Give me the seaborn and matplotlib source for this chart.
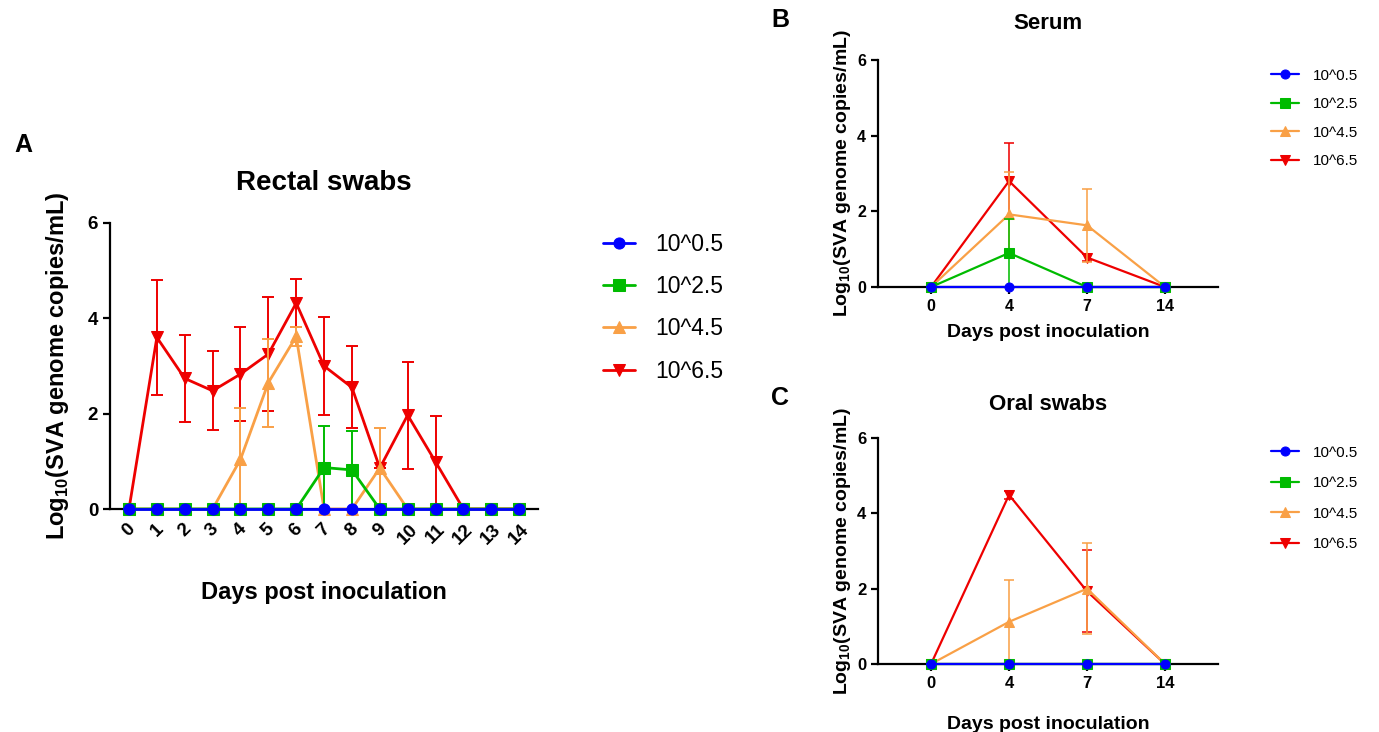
import numpy as np
import pandas as pd
import seaborn as sns
import matplotlib.pyplot as plt

sns.set_theme(style="ticks")
plt.rcParams['font.family'] = ['Liberation Sans', 'DejaVu Sans']
plt.rcParams['mathtext.fontset'] = 'custom'
plt.rcParams['mathtext.rm'] = 'Liberation Sans'
plt.rcParams['mathtext.bf'] = 'Liberation Sans:bold'
for key in ['text.color', 'axes.labelcolor', 'xtick.color', 'ytick.color']:
    plt.rcParams[key] = 'black'

# Gruppen (Inokulationsdosis)
groups = ['10^0.5', '10^2.5', '10^4.5', '10^6.5']
farben = {'10^0.5': '#0000ff', '10^2.5': '#00bb00', '10^4.5': '#f9a046', '10^6.5': '#ee0000'}
marker = {'10^0.5': 'o', '10^2.5': 's', '10^4.5': '^', '10^6.5': 'v'}
zorder = {'10^0.5': 6, '10^2.5': 5, '10^4.5': 4, '10^6.5': 3}

# A: Rektalabstriche, Tage 0-14
tage_a = list(range(15))
rectal_mean = {
    '10^0.5': [0] * 15,
    '10^2.5': [0, 0, 0, 0, 0, 0, 0, 0.87, 0.82, 0, 0, 0, 0, 0, 0],
    '10^4.5': [0, 0, 0, 0, 1.04, 2.65, 3.62, 0, 0, 0.86, 0, 0, 0, 0, 0],
    '10^6.5': [0, 3.6, 2.74, 2.48, 2.83, 3.25, 4.32, 3.0, 2.55, 0.86, 1.97, 0.99, 0, 0, 0],
}
rectal_sd = {
    '10^0.5': [0] * 15,
    '10^2.5': [0, 0, 0, 0, 0, 0, 0, 0.87, 0.82, 0, 0, 0, 0, 0, 0],
    '10^4.5': [0, 0, 0, 0, 1.07, 0.92, 0.2, 0, 0, 0.84, 0, 0, 0, 0, 0],
    '10^6.5': [0, 1.2, 0.92, 0.83, 0.98, 1.19, 0.51, 1.03, 0.86, 0, 1.12, 0.96, 0, 0, 0],
}

# B: Serum, C: Oralabstriche (Tage 0, 4, 7, 14)
tage_bc = ['0', '4', '7', '14']
serum_mean = {
    '10^0.5': [0, 0, 0, 0],
    '10^2.5': [0, 0.9, 0, 0],
    '10^4.5': [0, 1.92, 1.63, 0],
    '10^6.5': [0, 2.8, 0.78, 0],
}
serum_sd = {
    '10^0.5': [0, 0, 0, 0],
    '10^2.5': [0, 0.91, 0, 0],
    '10^4.5': [0, 1.12, 0.97, 0],
    '10^6.5': [0, 1.01, 0.1, 0],
}
oral_mean = {
    '10^0.5': [0, 0, 0, 0],
    '10^2.5': [0, 0, 0, 0],
    '10^4.5': [0, 1.12, 2.0, 0],
    '10^6.5': [0, 4.49, 1.93, 0],
}
oral_sd = {
    '10^0.5': [0, 0, 0, 0],
    '10^2.5': [0, 0, 0, 0],
    '10^4.5': [0, 1.1, 1.21, 0],
    '10^6.5': [0, 0.1, 1.09, 0],
}

ylab = r'Log$_{\mathbf{10}}$(SVA genome copies/mL)'


def zeichne(ax, labels, mean, sd, ms, lw, cap):
    rows = []
    for g in groups:
        for i, (m, s) in enumerate(zip(mean[g], sd[g])):
            rows.append({'pos': i, 'mean': m, 'sd': s, 'group': g})
    df = pd.DataFrame(rows)
    # Fehlerbalken (SD)
    for g in groups:
        d = df[df['group'] == g]
        ax.errorbar(d['pos'], d['mean'], yerr=d['sd'], fmt='none', ecolor=farben[g],
                    elinewidth=lw * 0.7, capsize=cap, capthick=lw * 0.7, zorder=zorder[g] - 0.5)
    n_vorher = len(ax.lines)
    sns.lineplot(data=df, x='pos', y='mean', hue='group', style='group', hue_order=groups,
                 style_order=groups, palette=farben, markers=marker, dashes=False,
                 estimator=None, markersize=ms, linewidth=lw, ax=ax)
    for line in ax.lines[n_vorher:]:
        line.set_markeredgecolor(line.get_color())
        line.set_clip_on(False)
        for g in groups:
            if line.get_color() == farben[g]:
                line.set_zorder(zorder[g])
    ax.set_ylim(0, 6)
    ax.set_yticks([0, 2, 4, 6])
    ax.set_xlim(-0.68, len(labels) - 1 + 0.68)
    ax.set_xticks(range(len(labels)))
    ax.set_xticklabels(labels)
    sns.despine(ax=ax)
    for sp in ['left', 'bottom']:
        ax.spines[sp].set_linewidth(1.6)
        ax.spines[sp].set_color('black')
    ax.tick_params(width=1.6, length=5, color='black')
    for t in ax.get_xticklabels() + ax.get_yticklabels():
        t.set_fontweight('bold')


fig = plt.figure(figsize=(13.79, 7.32), dpi=100)

# Panel A
ax_a = fig.add_axes([0.0798, 0.3046, 0.3104, 0.3908])
zeichne(ax_a, [str(t) for t in tage_a], rectal_mean, rectal_sd, ms=8, lw=2.0, cap=4)
ax_a.tick_params(labelsize=13.5)
plt.setp(ax_a.get_xticklabels(), rotation=45, ha='center')
ax_a.set_title('Rectal swabs', fontsize=20, fontweight='bold', pad=24)
ax_a.set_xlabel('Days post inoculation', fontsize=17, fontweight='bold', labelpad=24)
ax_a.set_ylabel(ylab, fontsize=17, fontweight='bold', labelpad=12)
ax_a.legend(loc='upper left', bbox_to_anchor=(0.422, 0.71), bbox_transform=fig.transFigure,
            frameon=False, fontsize=16.5, handlelength=1.4, labelspacing=0.84, handletextpad=0.9)

# Panel B
ax_b = fig.add_axes([0.6367, 0.6079, 0.2466, 0.3101])
zeichne(ax_b, tage_bc, serum_mean, serum_sd, ms=6.5, lw=1.6, cap=3.5)
ax_b.tick_params(labelsize=11.5)
ax_b.set_title('Serum', fontsize=16, fontweight='bold', pad=22)
ax_b.set_xlabel('Days post inoculation', fontsize=14, fontweight='bold', labelpad=7)
ax_b.set_ylabel(ylab, fontsize=14, fontweight='bold', labelpad=3)
ax_b.legend(loc='upper left', bbox_to_anchor=(0.912, 0.925), bbox_transform=fig.transFigure,
            frameon=False, fontsize=11, handlelength=1.8, labelspacing=0.95, handletextpad=0.9)

# Panel C
ax_c = fig.add_axes([0.6367, 0.0929, 0.2466, 0.3087])
zeichne(ax_c, tage_bc, oral_mean, oral_sd, ms=6.5, lw=1.6, cap=3.5)
ax_c.tick_params(labelsize=12)
ax_c.set_title('Oral swabs', fontsize=16, fontweight='bold', pad=20)
ax_c.set_xlabel('Days post inoculation', fontsize=14, fontweight='bold', labelpad=18)
ax_c.set_ylabel(ylab, fontsize=14, fontweight='bold', labelpad=3)
ax_c.legend(loc='upper left', bbox_to_anchor=(0.912, 0.41), bbox_transform=fig.transFigure,
            frameon=False, fontsize=11, handlelength=1.8, labelspacing=1.08, handletextpad=0.9)

# Panelbuchstaben
fig.text(23 / 1379, 1 - 145 / 732, 'A', fontsize=18, fontweight='bold', ha='center', va='center')
fig.text(780 / 1379, 1 - 20 / 732, 'B', fontsize=18, fontweight='bold', ha='center', va='center')
fig.text(780 / 1379, 1 - 398 / 732, 'C', fontsize=18, fontweight='bold', ha='center', va='center')

fig.savefig('out.png', dpi=100)
